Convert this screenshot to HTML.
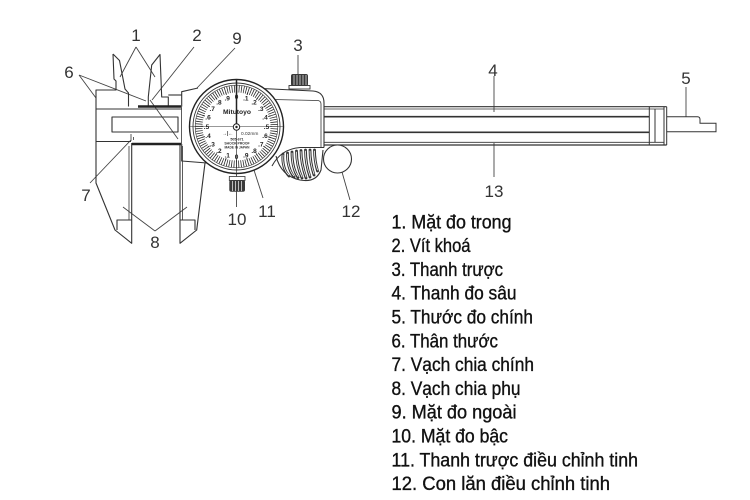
<!DOCTYPE html>
<html>
<head>
<meta charset="utf-8">
<style>
html,body{margin:0;padding:0;background:#fff;}
body{width:750px;height:500px;overflow:hidden;}
svg{display:block;}
.lbl{font-family:"Liberation Sans",Arial,sans-serif;font-size:17px;fill:#333;}
.lst{font-family:"Liberation Sans","DejaVu Sans",sans-serif;font-size:19px;fill:#111;stroke:#111;stroke-width:0.35;white-space:pre;}
.dn{font-family:"Liberation Sans",Arial,sans-serif;font-size:6.5px;fill:#222;font-weight:bold;text-anchor:middle;}
</style>
</head>
<body>
<svg width="750" height="500" viewBox="0 0 750 500" xmlns="http://www.w3.org/2000/svg" xml:space="preserve">
<rect width="750" height="500" fill="#fff"/>

<!-- leaders -->
<g stroke="#444" stroke-width="0.9" fill="none">
  <path d="M136,47 L120,77 M136,47 L155,77"/>
  <path d="M194,47 L152,100"/>
  <path d="M150,100 L178,139"/>
  <path d="M235,48 L197,88"/>
  <path d="M298,55 L298,74"/>
  <path d="M494,76 L494,112"/>
  <path d="M686,87 L686,117"/>
  <path d="M79,75 L96,98 M79,75 L146,101"/>
  <path d="M90,183 L131,140"/>
  <path d="M494,143 L494,177"/>
  <path d="M155,231 L123,207 M155,231 L187,207"/>
  <path d="M263,198 L253,167"/>
  <path d="M340,165 L350,200"/>
</g>

<!-- body / jaws -->
<g fill="none" stroke="#333" stroke-width="1.1" stroke-linejoin="round">
  <path d="M113,54 L114,79 L116,81 L116,90 L96,90 L96,183 L115,230 L131.7,243.3 L131.7,143"/>
  <path d="M113,54 L119.5,60.5 L125,89 L128.5,93 L128.5,106.5"/>
  <path d="M148.3,106.5 V97 L151.7,65 L160,54.5 L161.7,97 H168.3 V106.5"/>
  <path d="M168.3,95 H181.7"/>
  <line x1="96" y1="109" x2="181.7" y2="109"/>
  <rect x="112" y="117" width="66" height="15"/>
  <line x1="96" y1="141.5" x2="131" y2="141.5"/>
  <path d="M131,134 V141 M133.5,137 V140" stroke-width="0.8"/>
  <line x1="181.5" y1="106.5" x2="181.5" y2="144" stroke-width="0.8"/>
  <path d="M181.7,106.5 V91.7 L198,88"/>
  <path d="M181.7,144 V161 L207,163"/>
  <path d="M180,144 V243.3 L196.7,230 L205,163"/>
  <line x1="182.5" y1="146" x2="182.5" y2="220" stroke-width="0.8"/>
  <path d="M180,220 H195 V230"/>
  <line x1="129" y1="146" x2="129" y2="220" stroke-width="0.8"/>
  <path d="M117,230 V220 H131.7"/>
  <path d="M138,106.5 H181" stroke-width="2.4" stroke="#222"/>
  <path d="M132,144 H181" stroke-width="2.4" stroke="#222"/>

  <!-- slider right part -->
  <path d="M262,88.5 L313,91 Q324,92 324,103 V147.5"/>
  <path d="M272,99.5 L318,100.5 Q321,101 321,104 V147.5" stroke-width="0.8"/>
  <path d="M272,166 Q281,149 300,147.5 L324,147.5"/>
  <path d="M276,156 Q281,176 300,180 Q316,183 321,170 L323,150"/>
</g>

<!-- grip ridges (outlined bands) -->
<g fill="none" stroke-linecap="round">
  <g stroke="#333" stroke-width="2.8">
    <path d="M283,154 C282,164 285,172 289,176"/>
    <path d="M287.5,153 C287,163 290,172 294,177"/>
    <path d="M292,152 C292,162 294,171 298,177.5"/>
    <path d="M296.5,151 C296.5,161 298.5,170 302,178"/>
    <path d="M301,150.5 C301,160 303,169 306,178"/>
    <path d="M305.5,150 C305.5,159 307,168 310,177"/>
    <path d="M310,150 C310,158 311.5,167 314,175"/>
    <path d="M314.5,150 C314.5,157 315.5,164 317.5,171"/>
  </g>
  <g stroke="#fff" stroke-width="0.8">
    <path d="M283,155 C282,164 285,172 289,175"/>
    <path d="M287.5,154 C287,163 290,172 294,176"/>
    <path d="M292,153 C292,162 294,171 298,176.5"/>
    <path d="M296.5,152 C296.5,161 298.5,170 302,177"/>
    <path d="M301,151.5 C301,160 303,169 306,177"/>
    <path d="M305.5,151 C305.5,159 307,168 310,176"/>
    <path d="M310,151 C310,158 311.5,167 314,174"/>
    <path d="M314.5,151 C314.5,157 315.5,164 317.5,170"/>
  </g>
</g>

<!-- beam -->
<g fill="none" stroke="#333">
  <path d="M324,106.7 H666.7 M324,145 H666.7" stroke-width="1.2"/>
  <path d="M324,109 H664 M324,142.3 H664" stroke-width="0.8"/>
  <path d="M324,116.7 H649.3 M324,132.3 H649.3" stroke-width="1.6"/>
  <path d="M649.3,106.7 V145 M655,109 V142.3 M664,106.7 V145 M666.7,106.7 V145" stroke-width="1"/>
  <path d="M666.7,116.7 H697.5 Q700,116.7 700,119.5 V123.3 H716 V131.7 H666.7" stroke-width="1"/>
</g>

<!-- roller -->
<circle cx="337.5" cy="159" r="14" fill="#fff" stroke="#333" stroke-width="1.1"/>

<!-- knob 3 -->
<rect x="289" y="85.5" width="21" height="3.5" fill="#fff" stroke="#333" stroke-width="0.9"/>
<rect x="291" y="74" width="17" height="12" rx="2" fill="#3a3a3a"/>
<g stroke="#ddd" stroke-width="0.8">
  <line x1="294" y1="75" x2="294" y2="85"/><line x1="297" y1="75" x2="297" y2="85"/>
  <line x1="300" y1="75" x2="300" y2="85"/><line x1="303" y1="75" x2="303" y2="85"/>
  <line x1="306" y1="75" x2="306" y2="85"/>
</g>

<!-- dial -->
<line x1="236.5" y1="170" x2="236.5" y2="207" stroke="#444" stroke-width="0.9"/>
<circle cx="236.5" cy="126.5" r="47" fill="#fff" stroke="#222" stroke-width="1.4"/>
<circle cx="236.5" cy="126.5" r="43.5" fill="none" stroke="#333" stroke-width="0.9"/>
<circle cx="236.5" cy="126.5" r="41.3" fill="none" stroke="#333" stroke-width="0.6"/>
<circle cx="236.5" cy="126.5" r="37.5" fill="none" stroke="#222" stroke-width="7" stroke-dasharray="0.75 1.6062" stroke-dashoffset="0.375"/>
<circle cx="236.5" cy="126.5" r="34.5" fill="none" stroke="#222" stroke-width="2.5" stroke-dasharray="0.9 9.9377" stroke-dashoffset="0.45"/>
<line x1="190" y1="126.5" x2="283" y2="126.5" stroke="#333" stroke-width="0.6"/>
<line x1="236.5" y1="79.5" x2="236.5" y2="174" stroke="#333" stroke-width="0.7"/>
<line x1="236.5" y1="80" x2="236.5" y2="126" stroke="#222" stroke-width="1.5"/>
<circle cx="236.5" cy="127" r="3.2" fill="#fff" stroke="#222" stroke-width="1"/>
<circle cx="236.5" cy="127" r="1.2" fill="#222"/>

<g class="dn">
  <text x="236.5" y="98.8">0</text>
  <text x="245.8" y="100.3">.1</text>
  <text x="254.1" y="104.5">.2</text>
  <text x="260.8" y="111.2">.3</text>
  <text x="265.0" y="119.5">.4</text>
  <text x="266.5" y="128.8">.5</text>
  <text x="265.0" y="138.1">.6</text>
  <text x="260.8" y="146.4">.7</text>
  <text x="254.1" y="153.1">.8</text>
  <text x="245.8" y="157.3">.9</text>
  <text x="236.5" y="158.8">0</text>
  <text x="227.2" y="157.3">.1</text>
  <text x="218.9" y="153.1">.2</text>
  <text x="212.2" y="146.4">.3</text>
  <text x="208.0" y="138.1">.4</text>
  <text x="206.5" y="128.8">.5</text>
  <text x="208.0" y="119.5">.6</text>
  <text x="212.2" y="111.2">.7</text>
  <text x="218.9" y="104.5">.8</text>
  <text x="227.2" y="100.3">.9</text>
</g>
<text x="237" y="114" font-family="Liberation Sans, Arial, sans-serif" font-size="6.5" font-weight="bold" fill="#222" text-anchor="middle" textLength="28" lengthAdjust="spacingAndGlyphs">Mitutoyo</text>
<text x="222" y="135" font-family="Liberation Sans, Arial, sans-serif" font-size="5" font-weight="bold" fill="#222">→|←</text>
<text x="241" y="135" font-family="Liberation Sans, Arial, sans-serif" font-size="4.8" fill="#333">0.02mm</text>
<g font-family="Liberation Sans, Arial, sans-serif" font-weight="bold" fill="#333" text-anchor="middle">
  <text x="237" y="140.5" font-size="3.6">505-671</text>
  <text x="237" y="144.5" font-size="3.4">SHOCK PROOF</text>
  <text x="237" y="148.5" font-size="3.2">MADE IN JAPAN</text>
</g>

<!-- knob 10 -->
<rect x="229.3" y="176.5" width="15.7" height="4" fill="#fff" stroke="#333" stroke-width="0.8"/>
<rect x="229.3" y="180" width="15.7" height="11.7" rx="2" fill="#3a3a3a"/>
<g stroke="#ddd" stroke-width="0.8">
  <line x1="232.5" y1="181" x2="232.5" y2="191"/><line x1="235.5" y1="181" x2="235.5" y2="191"/>
  <line x1="238.5" y1="181" x2="238.5" y2="191"/><line x1="241.5" y1="181" x2="241.5" y2="191"/>
</g>

<!-- labels -->
<g class="lbl" text-anchor="middle">
  <text x="136" y="41">1</text>
  <text x="197" y="41">2</text>
  <text x="237" y="44">9</text>
  <text x="298" y="51">3</text>
  <text x="493" y="76">4</text>
  <text x="686" y="84">5</text>
  <text x="69" y="78">6</text>
  <text x="86" y="201">7</text>
  <text x="494" y="197">13</text>
  <text x="155" y="248">8</text>
  <text x="237" y="225">10</text>
  <text x="267" y="217">11</text>
  <text x="351" y="217">12</text>
</g>

<!-- legend list -->
<g class="lst">
  <text x="391.5" y="228.3" textLength="120" lengthAdjust="spacingAndGlyphs">1. Mặt đo trong</text>
  <text x="391.5" y="252.1" textLength="79" lengthAdjust="spacingAndGlyphs">2. Vít khoá</text>
  <text x="391.5" y="275.9" textLength="111.5" lengthAdjust="spacingAndGlyphs">3. Thanh trược</text>
  <text x="391.5" y="299.7" textLength="125" lengthAdjust="spacingAndGlyphs">4. Thanh đo sâu</text>
  <text x="391.5" y="323.5" textLength="141.5" lengthAdjust="spacingAndGlyphs">5. Thước đo chính</text>
  <text x="391.5" y="347.3" textLength="106.5" lengthAdjust="spacingAndGlyphs">6. Thân thước</text>
  <text x="391.5" y="371.1" textLength="142.5" lengthAdjust="spacingAndGlyphs">7. Vạch chia chính</text>
  <text x="391.5" y="394.9" textLength="129" lengthAdjust="spacingAndGlyphs">8. Vạch chia phụ</text>
  <text x="391.5" y="418.7" textLength="125" lengthAdjust="spacingAndGlyphs">9. Mặt đo ngoài</text>
  <text x="391.5" y="442.5" textLength="116.5" lengthAdjust="spacingAndGlyphs">10. Mặt đo bậc</text>
  <text x="391.5" y="466.3" textLength="246.5" lengthAdjust="spacingAndGlyphs">11. Thanh trược điều chỉnh tinh</text>
  <text x="391.5" y="490.1" textLength="218.5" lengthAdjust="spacingAndGlyphs">12. Con lăn  điều chỉnh tinh</text>
</g>
</svg>
</body>
</html>
